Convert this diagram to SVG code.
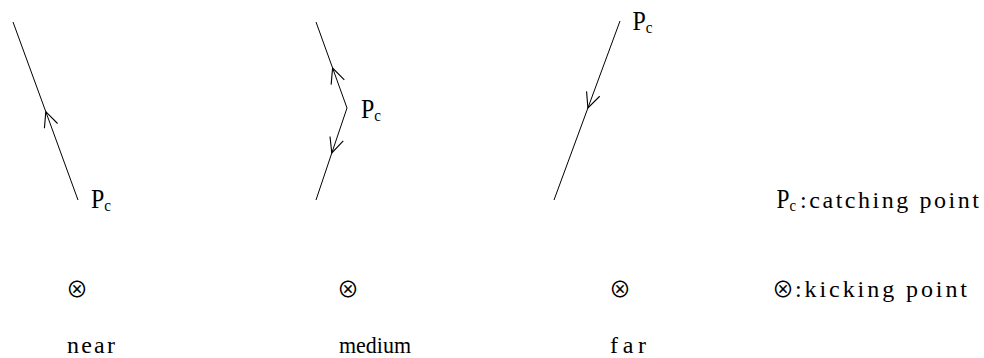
<svg xmlns="http://www.w3.org/2000/svg" width="984" height="358" viewBox="0 0 984 358">
  <style>
    .ln { fill: none; stroke: #000; stroke-width: 1; }
    .t { font-family: "Liberation Serif", "DejaVu Serif", serif; font-size: 24px; fill: #000; }
    .P { font-family: "Liberation Serif", "DejaVu Serif", serif; font-size: 27px; fill: #000; }
    .c { font-size: 17px; }
    .x { font-family: "Noto Sans CJK JP", "DejaVu Sans", sans-serif; font-size: 22px; fill: #000; text-anchor: middle; }
  </style>
  <defs>
    <marker id="arr" markerUnits="userSpaceOnUse" orient="auto" refX="0" refY="0" markerWidth="20" markerHeight="20" viewBox="-16 -8 18 16" overflow="visible">
      <path d="M-13.6,-6.3 L0,0 L-13.6,6.3" fill="none" stroke="#000" stroke-width="1"/>
    </marker>
  </defs>
  <rect width="984" height="358" fill="#fff"/>

  <g id="connectors">
    <polyline class="ln" points="78,200 45.8,111.7 13,22" marker-mid="url(#arr)"/>
    <polyline class="ln" points="347,108 332.6,68 316,22" marker-mid="url(#arr)"/>
    <polyline class="ln" points="347,108 331.8,153 316,200" marker-mid="url(#arr)"/>
    <polyline class="ln" points="620,21 587.9,108 554,200" marker-mid="url(#arr)"/>
  </g>

  <g id="near">
    <text class="P" x="91" y="208" textLength="20" lengthAdjust="spacingAndGlyphs">P<tspan class="c" dy="3">c</tspan></text>
    <text class="x" x="77" y="297">⊗</text>
    <text class="t" x="67" y="353" textLength="48" lengthAdjust="spacing">near</text>
  </g>

  <g id="medium">
    <text class="P" x="361" y="118" textLength="20" lengthAdjust="spacingAndGlyphs">P<tspan class="c" dy="3">c</tspan></text>
    <text class="x" x="348" y="297">⊗</text>
    <text class="t" x="339" y="353" textLength="72" lengthAdjust="spacingAndGlyphs">medium</text>
  </g>

  <g id="far">
    <text class="P" x="632.5" y="30" textLength="20" lengthAdjust="spacingAndGlyphs">P<tspan class="c" dy="3">c</tspan></text>
    <text class="x" x="620" y="297">⊗</text>
    <text class="t" x="610" y="353" textLength="36" lengthAdjust="spacing">far</text>
  </g>

  <g id="legend">
    <text class="P" x="776.5" y="208" textLength="19.5" lengthAdjust="spacingAndGlyphs">P<tspan class="c" dy="3">c</tspan></text>
    <text class="t" x="800" y="208" textLength="179" lengthAdjust="spacing">:catching point</text>
    <text class="x" x="783" y="297">⊗</text>
    <text class="t" x="795" y="297" textLength="172" lengthAdjust="spacing">:kicking point</text>
  </g>
</svg>
